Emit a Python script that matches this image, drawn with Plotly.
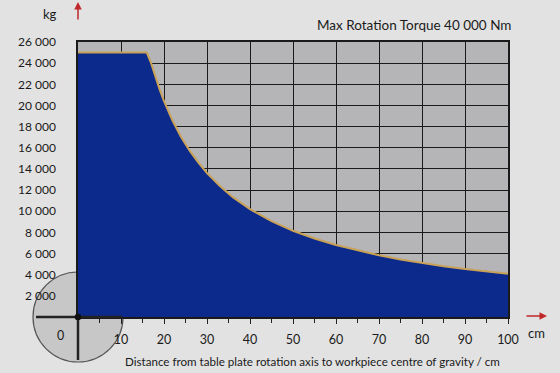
import plotly.graph_objects as go

distance_cm = [0, 16, 17, 18, 19, 20, 21, 22, 24, 26, 28, 30, 33, 36, 40, 45, 50, 55, 60, 65,
               70, 75, 80, 85, 90, 95, 100]
load_kg = [25000, 25000, 24000, 22700, 21500, 20400, 19450, 18550, 17000, 15700, 14600, 13600,
           12380, 11330, 10200, 9060, 8150, 7420, 6800, 6280, 5830, 5440, 5100, 4800, 4530,
           4300, 4080]

x_ticks = [10, 20, 30, 40, 50, 60, 70, 80, 90, 100]
x_tick_labels = ["10", "20", "30", "40", "50", "60", "70", "80", "90", "100"]
y_ticks = [2000, 4000, 6000, 8000, 10000, 12000, 14000, 16000, 18000, 20000, 22000, 24000, 26000]
y_tick_labels = ["2 000", "4 000", "6 000", "8 000", "10 000", "12 000", "14 000", "16 000",
                 "18 000", "20 000", "22 000", "24 000", "26 000"]

title_text = "Max Rotation Torque 40 000 Nm"
x_title = "Distance from table plate rotation axis to workpiece centre of gravity / cm"

W, H = 560, 373
L, R, T, B = 78, 52, 42, 56
pw, ph = W - L - R, H - T - B

def px(xp):
    return (xp - L) / pw

def py(yp):
    return (H - B - yp) / ph

fig = go.Figure()
fig.add_trace(go.Scatter(
    x=distance_cm, y=load_kg, mode="lines",
    line=dict(color="#c9a257", width=2),
    fill="tozeroy", fillcolor="#0b2a8c",
    hoverinfo="skip", showlegend=False,
))

font = "Lato, 'Open Sans', sans-serif"
r = 45
shapes = [
    dict(type="circle", xref="paper", yref="paper",
         x0=px(L - r), x1=px(L + r), y0=py(H - B + r), y1=py(H - B - r),
         fillcolor="rgba(120,120,120,0.25)", line=dict(color="#555", width=1.2), layer="below"),
    dict(type="line", xref="paper", yref="paper",
         x0=px(36), x1=px(122), y0=0, y1=0, line=dict(color="#222", width=2.5), layer="above"),
    dict(type="line", xref="paper", yref="paper",
         x0=0, x1=0, y0=0, y1=py(360), line=dict(color="#222", width=2.5), layer="above"),
    dict(type="circle", xref="paper", yref="paper",
         x0=px(L - 3), x1=px(L + 3), y0=py(H - B + 3), y1=py(H - B - 3),
         fillcolor="#111", line=dict(color="#111", width=1), layer="above"),
]

def ann(text, xp, yp, size=12):
    return dict(text=text, xref="paper", yref="paper", x=px(xp), y=py(yp),
                xanchor="center", yanchor="middle", showarrow=False,
                font=dict(size=size, color="#1a1a1a", family=font))

annotations = [
    ann(title_text, 414, 25, 13.5),
    ann("kg", 50, 14, 13),
    ann("cm", 536, 333, 13),
    ann("0", 60, 335, 12.5),
    ann(x_title, 312, 361, 11.6),
    dict(text="", xref="paper", yref="paper", x=px(78), y=py(2), ax=0, ay=19,
         showarrow=True, arrowhead=2, arrowsize=1, arrowwidth=1.5, arrowcolor="#c0282a"),
    dict(text="", xref="paper", yref="paper", x=px(547), y=py(316), ax=-22, ay=0,
         showarrow=True, arrowhead=2, arrowsize=1, arrowwidth=1.5, arrowcolor="#c0282a"),
]

fig.update_layout(
    width=W, height=H,
    margin=dict(l=L, r=R, t=T, b=B),
    paper_bgcolor="#e2e2e2", plot_bgcolor="#b5b5b8",
    font=dict(family=font, size=12, color="#1a1a1a"),
    shapes=shapes, annotations=annotations,
    xaxis=dict(range=[0, 100], tickvals=x_ticks, ticktext=x_tick_labels,
               showgrid=True, gridcolor="#1a1a1a", gridwidth=1,
               showline=True, linecolor="#1a1a1a", linewidth=1.5, mirror=True,
               ticks="outside", ticklen=5, tickcolor="#222", ticklabelstandoff=5,
               minor=dict(ticks="outside", dtick=5, tick0=0, ticklen=4, tickcolor="#222", showgrid=False),
               zeroline=False, tickfont=dict(size=12.5)),
    yaxis=dict(range=[0, 26000], tickvals=y_ticks, ticktext=y_tick_labels,
               showgrid=True, gridcolor="#1a1a1a", gridwidth=1,
               showline=True, linecolor="#1a1a1a", linewidth=1.5, mirror=True,
               ticks="", ticklabelstandoff=18, zeroline=False, tickfont=dict(size=12)),
)

fig.write_html("out.html")
